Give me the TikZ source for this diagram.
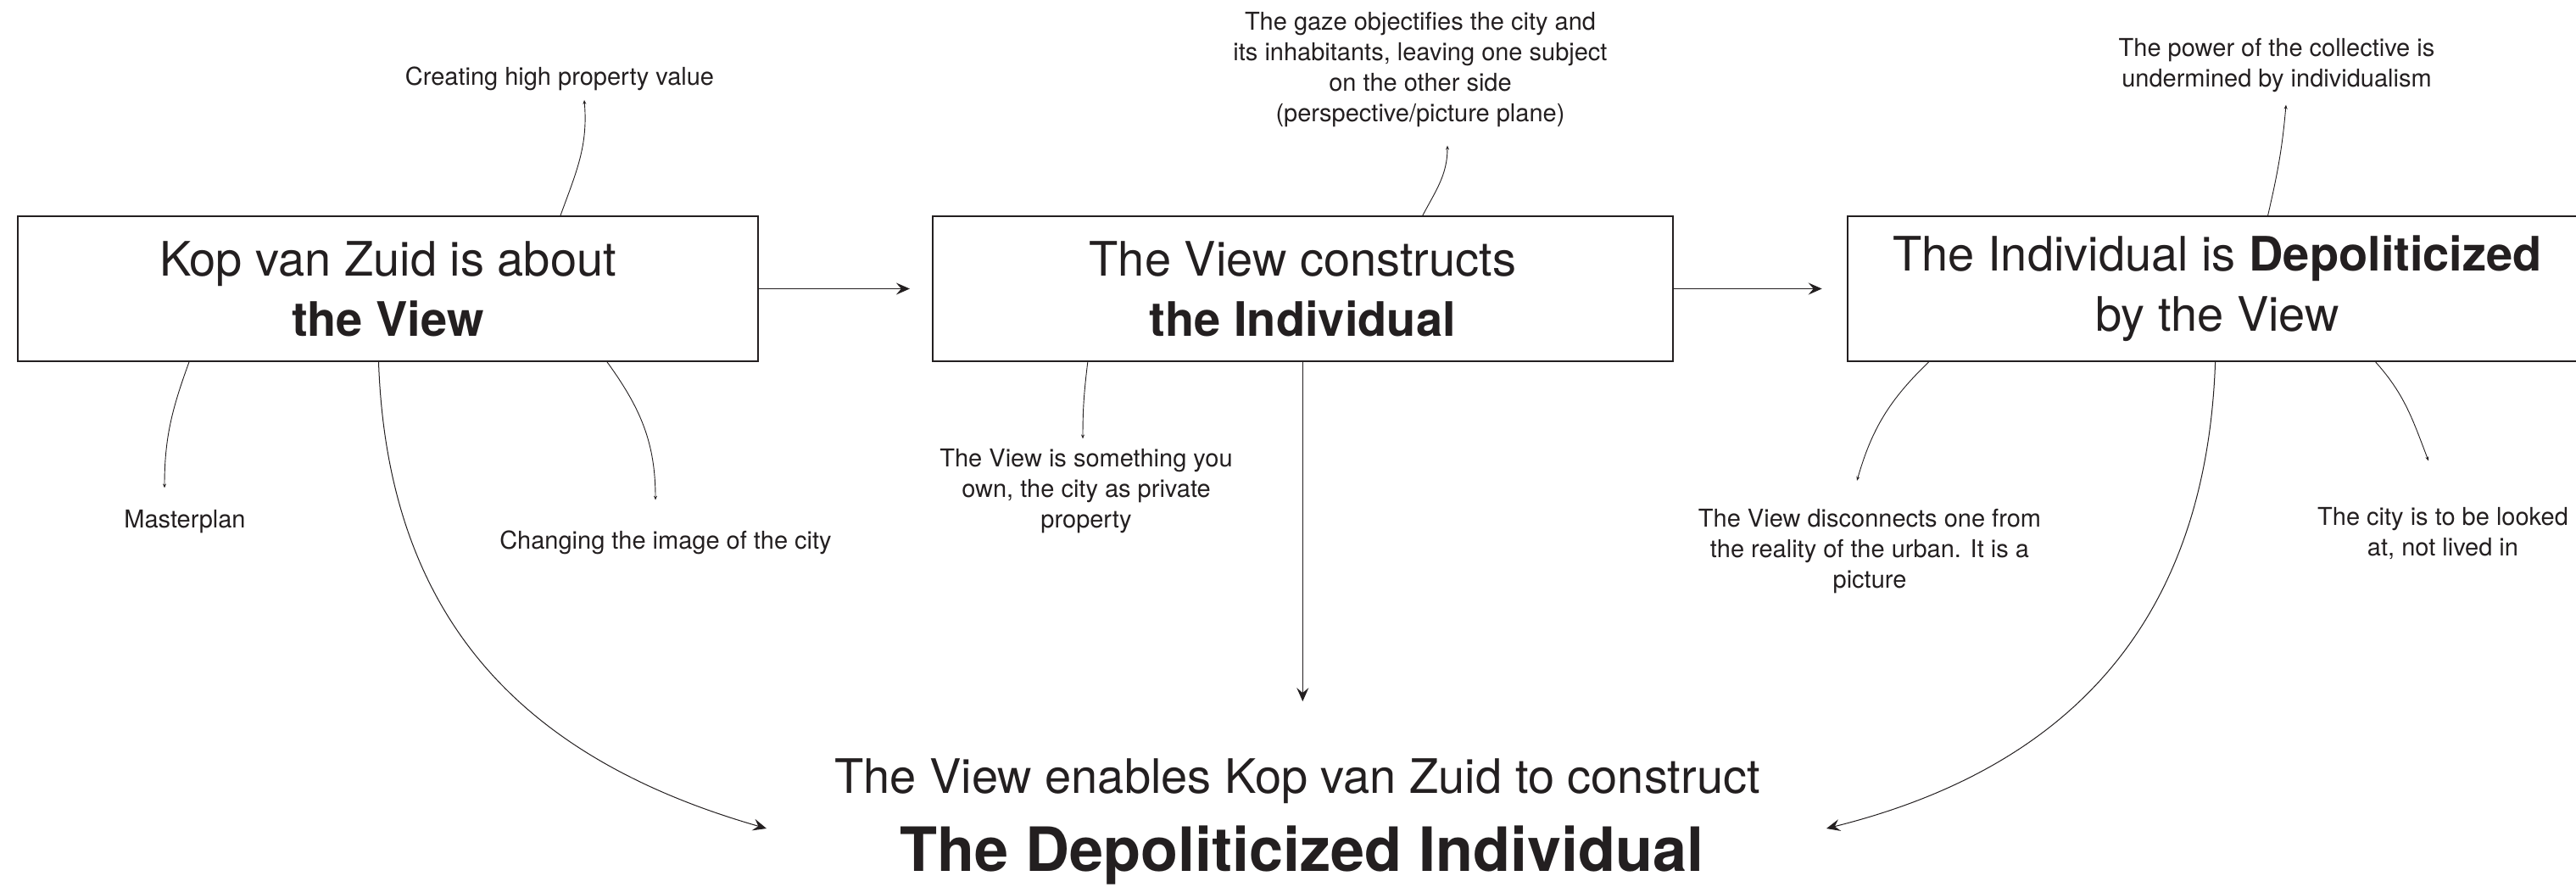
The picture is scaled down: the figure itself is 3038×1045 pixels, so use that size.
\documentclass[tikz,border=0pt]{standalone}
\usepackage{fontspec}
\setmainfont{TeX Gyre Heros}
\usetikzlibrary{arrows.meta,calc,positioning}
\definecolor{ink}{HTML}{231F20}
\newcommand{\boxfont}{\fontsize{28}{35.5}\selectfont}
\newcommand{\notefont}{\fontsize{14.5}{18}\selectfont}
\tikzstyle{every node}+=[text=ink]
\tikzstyle{claim}=[draw=ink,line width=0.9pt,minimum width=436.5pt,minimum height=85.5pt,align=center,font=\boxfont,inner sep=0pt]
\tikzstyle{note}=[align=center,inner sep=0pt,font=\notefont]
\tikzstyle{link}=[draw=ink,line width=0.7pt,-{Stealth[length=8pt,width=7pt,inset=3pt]}]
\tikzstyle{sweep}=[draw=ink,line width=0.5pt,out distance=151pt,in distance=150pt,-{Stealth[length=8pt,width=7pt,inset=3pt]}]
\tikzstyle{aside}=[draw=ink,line width=0.45pt,-{Stealth[length=2.5pt,width=2pt]}]

\begin{document}
\begin{tikzpicture}[x=0.5pt,y=0.5pt]
\useasboundingbox (0,0) rectangle (3038,-1045);

% the three claims
\node[claim] (kvz) at (457.5,-340.5) {Kop van Zuid is about\\\textbf{the View}};
\node[claim,right=102pt of kvz] (view) {The View constructs\\\textbf{the Individual}};
\node[claim,right=102pt of view] (indiv) {The Individual is \textbf{Depoliticized}\\by the View};

% conclusion
\node[font=\fontsize{28}{34}\selectfont,anchor=base] (enable) at (1530,-935) {The View enables Kop van Zuid to construct};
\node[font=\fontsize{36}{43}\selectfont\bfseries,anchor=base] (dep) at (1535.5,-1027) {The Depoliticized Individual};
\coordinate (lend) at (904,-977);
\coordinate (rend) at (2154,-977);

% side remarks
\node[note] (create) at (660,-92.5) {Creating high property value};
\node[note] (mplan) at (218,-615.5) {Masterplan};
\node[note] (image) at (785,-640) {Changing the image of the city};
\node[note] (gaze) at (1675,-82.5) {The gaze objectifies the city and\\its inhabitants, leaving one subject\\on the other side\\(perspective/picture plane)};
\node[note] (own) at (1281,-579.5) {The View is something you\\own, the city as private\\property};
\node[note] (power) at (2685,-77.5) {The power of the collective is\\undermined by individualism};
\node[note] (disc) at (2205,-650) {The View disconnects one from\\the reality of the urban. It is a\\picture};
\node[note] (city) at (2881,-629.5) {The city is to be looked\\at, not lived in};

\draw[link] (kvz.east) -- ($(view.west)+(-26,0)$);
\draw[link] (view.east) -- ($(indiv.west)+(-29,0)$);
\draw[link] (view.south) -- ($(view.south |- enable.north)+(0,60)$);
\draw[sweep] ($(kvz.south)+(-11,0)$) to[out=-88,in=164] (lend);
\draw[sweep] ($(indiv.south)+(-2.5,0)$) to[out=-92,in=14] (rend);

\draw[aside] ($(kvz.north)+(203.5,0)$) to[out=70,in=-85] ($(create.south)+(29,-11)$);
\draw[aside] ($(kvz.south)+(-234.5,0)$) to[out=-110,in=90] ($(mplan.north)+(-24,26)$);
\draw[aside] ($(kvz.south)+(258.5,0)$) to[out=-54,in=90] ($(image.north)+(-12,36)$);
\draw[aside] ($(view.north)+(141.5,0)$) to[out=62,in=-90] ($(gaze.south)+(32,-21)$);
\draw[aside] ($(view.south)+(-253.5,0)$) to[out=-97,in=90] ($(own.north)+(-4,12)$);
\draw[aside] ($(indiv.north)+(59.5,0)$) to[out=77,in=-95] ($(power.south)+(11,-14)$);
\draw[aside] ($(indiv.south)+(-340.5,0)$) to[out=-136,in=74] ($(disc.north)+(-15,33)$);
\draw[aside] ($(indiv.south)+(186.5,0)$) to[out=-48,in=111] ($(city.north)+(-17,55)$);
\end{tikzpicture}
\end{document}
